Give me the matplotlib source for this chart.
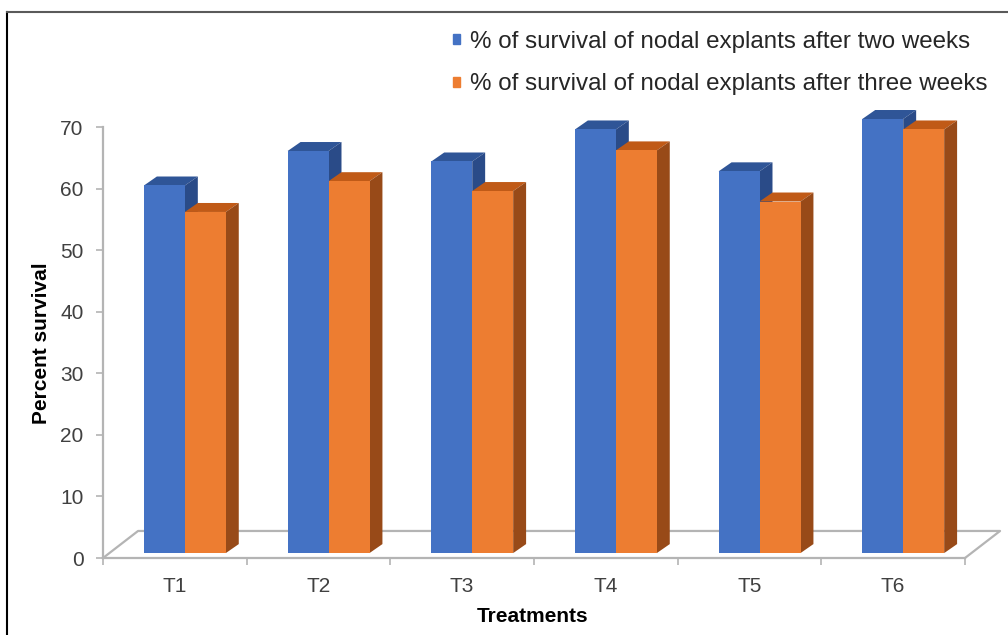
import matplotlib.pyplot as plt
import numpy as np
from matplotlib.lines import Line2D
from matplotlib.patches import Patch, Polygon

plt.rcParams["font.family"] = ["Liberation Sans", "DejaVu Sans"]

treatments = ["T1", "T2", "T3", "T4", "T5", "T6"]
two_weeks = [59.7, 65.3, 63.6, 68.8, 62.0, 70.5]
three_weeks = [55.4, 60.4, 58.8, 65.4, 57.1, 68.8]
series_labels = [
    "% of survival of nodal explants after two weeks",
    "% of survival of nodal explants after three weeks",
]

# front / top / side shades for the fake 3D columns
BLUE = ("#4472c4", "#2f5597", "#2a4b88")
ORANGE = ("#ed7d31", "#c05a17", "#984a18")
GRID = "#b4b4b4"

W, H = 1008, 635
fig = plt.figure(figsize=(W / 100, H / 100), dpi=100)
ax = fig.add_axes([103 / W, (H - 558) / H, 862 / W, 431 / H])
ax.set_xlim(-0.5, 5.5)
ax.set_ylim(0, 70)

x = np.arange(len(treatments))
bw = 0.285      # column width (category units)
shift = 0.07    # columns sit a bit behind the front edge
base = 0.8
ddx, ddy = 0.09, 1.46     # depth of a column
fdx, fdy = 0.244, 4.39    # depth of the floor


def draw_3d(bars, shades, z):
    front, top, side = shades
    for b in bars:
        x0, w, y1 = b.get_x(), b.get_width(), b.get_y() + b.get_height()
        y0 = b.get_y()
        b.set_facecolor(front)
        b.set_zorder(z + 1)
        ax.add_patch(Polygon([(x0, y1), (x0 + w, y1), (x0 + w + ddx, y1 + ddy),
                              (x0 + ddx, y1 + ddy)], closed=True, fc=top,
                             ec="none", zorder=z, clip_on=False))
        ax.add_patch(Polygon([(x0 + w, y0), (x0 + w + ddx, y0 + ddy),
                              (x0 + w + ddx, y1 + ddy), (x0 + w, y1)], closed=True,
                             fc=side, ec="none", zorder=z, clip_on=False))


b1 = ax.bar(x + shift - bw / 2, two_weeks, width=bw, bottom=base, clip_on=False)
b2 = ax.bar(x + shift + bw / 2, three_weeks, width=bw, bottom=base, clip_on=False)
draw_3d(b1, BLUE, 2)
draw_3d(b2, ORANGE, 4)

# floor outline
x_lo, x_hi = -0.5, len(treatments) - 0.5
ax.plot([x_lo, x_lo + fdx, x_hi + fdx, x_hi], [0, fdy, fdy, 0],
        color=GRID, lw=1.6, zorder=1, clip_on=False)

for s in ("top", "right"):
    ax.spines[s].set_visible(False)
for s in ("left", "bottom"):
    ax.spines[s].set_color(GRID)
    ax.spines[s].set_linewidth(1.6)
ax.set_yticks(range(0, 80, 10))
ax.tick_params(axis="y", length=5, width=1.2, color=GRID, labelsize=15,
               labelcolor="#404040", pad=9)
ax.set_xticks(x, treatments)
ax.tick_params(axis="x", length=0, labelsize=15, labelcolor="#404040", pad=14)
ax.set_xticks(np.arange(x_lo, x_hi + 1), minor=True)
ax.tick_params(axis="x", which="minor", length=5, width=1.2, color=GRID)
ax.set_facecolor("none")

fig.text(42 / W, 1 - 343 / H, "Percent survival", rotation=90, ha="center",
         va="center", fontsize=15, fontweight="bold")
fig.text(533 / W, 1 - 617 / H, "Treatments", ha="center", va="center",
         fontsize=15, fontweight="bold")

handles = [Patch(color=BLUE[0]), Patch(color=ORANGE[0])]
fig.legend(handles, series_labels, loc="upper left",
           bbox_to_anchor=(453 / W, 1 - 31 / H), frameon=False, fontsize=17.4,
           handlelength=0.3, handleheight=0.26, handletextpad=0.4,
           labelspacing=0.84, borderpad=0, borderaxespad=0, labelcolor="#262626")

# outer frame (left and top edges only)
fig.add_artist(Line2D([7 / W, 7 / W], [0, 1 - 12 / H], color="black", lw=1.5))
fig.add_artist(Line2D([7 / W, 1], [1 - 12 / H, 1 - 12 / H], color="#5a5a5a", lw=1.5))

fig.savefig("out.png", dpi=100, facecolor="white")
